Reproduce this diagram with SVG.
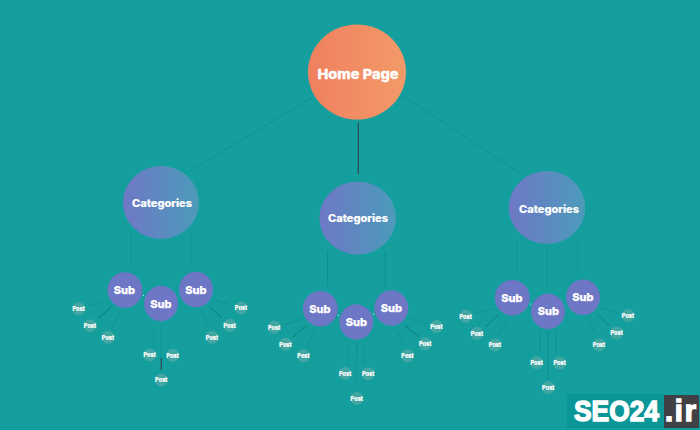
<svg xmlns="http://www.w3.org/2000/svg" width="700" height="430" viewBox="0 0 700 430">
<style>
text{font-family:"Inter","Liberation Sans",sans-serif;font-weight:800;fill:#fff;text-anchor:middle}
.h{font-size:13.5px;stroke:#fff;stroke-width:.3}.c{font-size:10.5px;stroke:#fff;stroke-width:.15}.s{font-size:11px;stroke:#fff;stroke-width:.25}.p{font-size:5.6px;font-weight:800;stroke:#fff;stroke-width:.15}
.sub{fill:#6e76c6}.post{fill:#42a6a2}
.cat{fill:url(#cg)}
#connectors line{fill:none}
.d{stroke:#0d6266;stroke-width:.5;stroke-dasharray:1 1.2}
.a{stroke:#2f4a50;stroke-width:1.2}
.f{stroke:#129496;stroke-width:.7}
.m{stroke:#10868a;stroke-width:.8}
.k{stroke:#0c565a;stroke-width:.7;stroke-dasharray:1.5 .7}
.w{stroke:#e6f6f5;stroke-width:1}
.wm{font-family:"Liberation Sans",sans-serif;font-weight:700;font-size:29px;text-anchor:start;stroke:#fff;stroke-width:1.4}
</style>
<defs>
<linearGradient id="hg"><stop offset="0" stop-color="#f0805f"/><stop offset="1" stop-color="#f39a68"/></linearGradient>
<linearGradient id="cg"><stop offset="0" stop-color="#6f78c6"/><stop offset="1" stop-color="#4b9bba"/></linearGradient>
</defs>
<rect width="700" height="430" fill="#149e9e"/>
<g id="connectors">
<line class="d" x1="312.3" y1="97.3" x2="191" y2="170.7"/>
<line class="a" x1="358.3" y1="122.7" x2="358.3" y2="174"/>
<line class="d" x1="403.3" y1="95.7" x2="520.7" y2="173.7"/>
<line class="f" x1="130.7" y1="231" x2="130.7" y2="266.7"/>
<line class="f" x1="191.7" y1="233.3" x2="191.7" y2="269.3"/>
<line class="m" x1="327.7" y1="251" x2="327.7" y2="286.7"/>
<line class="m" x1="385.3" y1="252.3" x2="385.3" y2="287.7"/>
<line class="f" x1="517.3" y1="239.3" x2="517.3" y2="275"/>
<line class="f" x1="547.3" y1="244" x2="547.3" y2="288"/>
<line class="f" x1="578.3" y1="240" x2="578.3" y2="275.7"/>
<line class="d" x1="88.7" y1="305.7" x2="105.3" y2="301"/>
<line class="k" x1="99" y1="318" x2="111.7" y2="306.3"/>
<line class="d" x1="112.3" y1="326.7" x2="119.3" y2="311.7"/>
<line class="f" x1="153.7" y1="326.7" x2="153.7" y2="346"/>
<line class="f" x1="161.3" y1="323.3" x2="161.3" y2="358.3"/>
<line class="a" x1="161.3" y1="358.3" x2="161.3" y2="370"/>
<line class="d" x1="201" y1="311.3" x2="209" y2="327.3"/>
<line class="k" x1="209" y1="306.3" x2="221.7" y2="317.7"/>
<line class="d" x1="214" y1="300" x2="230" y2="304.7"/>
<line class="w" x1="143" y1="295.3" x2="144" y2="295.3"/>
<line class="d" x1="284.3" y1="324.3" x2="302.7" y2="319"/>
<line class="k" x1="293.3" y1="336.7" x2="307" y2="325"/>
<line class="d" x1="307" y1="346.7" x2="314.7" y2="330.3"/>
<line class="f" x1="348.7" y1="346" x2="348.7" y2="365"/>
<line class="m" x1="356.7" y1="342.7" x2="356.7" y2="354"/>
<line class="f" x1="356.7" y1="354" x2="356.7" y2="383"/>
<line class="f" x1="364.7" y1="345.3" x2="364.7" y2="364"/>
<line class="d" x1="397.3" y1="331.3" x2="404" y2="345.7"/>
<line class="k" x1="405.3" y1="325.7" x2="418.3" y2="336.7"/>
<line class="d" x1="409.3" y1="319" x2="426.7" y2="323.7"/>
<line class="w" x1="338" y1="315.3" x2="339" y2="315.3"/>
<line class="w" x1="373" y1="314.3" x2="374" y2="314.3"/>
<line class="d" x1="476.7" y1="312.7" x2="494" y2="308.3"/>
<line class="k" x1="486" y1="326" x2="499" y2="314.3"/>
<line class="d" x1="499.3" y1="335" x2="506.7" y2="319"/>
<line class="m" x1="540.3" y1="334" x2="540.3" y2="351.7"/>
<line class="m" x1="548.3" y1="332" x2="548.3" y2="380"/>
<line class="m" x1="556.3" y1="334" x2="556.3" y2="352.7"/>
<line class="d" x1="589.3" y1="320" x2="595.7" y2="334.7"/>
<line class="k" x1="599" y1="315.7" x2="609" y2="325.7"/>
<line class="d" x1="601.7" y1="308.3" x2="618.3" y2="312.7"/>
<line class="w" x1="530" y1="304" x2="531" y2="304"/>
</g>
<g id="home"><ellipse cx="357" cy="72" rx="49" ry="47.5" fill="url(#hg)"/><text class="h" x="358" y="79" textLength="81" lengthAdjust="spacingAndGlyphs">Home Page</text></g>
<g id="cat1"><ellipse class="cat" cx="161" cy="202.5" rx="38" ry="36.5"/><text class="c" x="162" y="207" textLength="60" lengthAdjust="spacingAndGlyphs">Categories</text></g>
<g id="cat2"><ellipse class="cat" cx="357.7" cy="218" rx="38.3" ry="36.5"/><text class="c" x="358" y="222" textLength="60" lengthAdjust="spacingAndGlyphs">Categories</text></g>
<g id="cat3"><ellipse class="cat" cx="547" cy="207.5" rx="38.2" ry="36.5"/><text class="c" x="549" y="212.5" textLength="60" lengthAdjust="spacingAndGlyphs">Categories</text></g>

<g id="sub1a"><ellipse class="sub" cx="125" cy="290" rx="17.5" ry="17.8"/><text class="s" x="124.500" y="293.800">Sub</text></g>
<g id="sub1b"><ellipse class="sub" cx="161" cy="303.500" rx="17" ry="17.700"/><text class="s" x="161" y="307.500">Sub</text></g>
<g id="sub1c"><ellipse class="sub" cx="196" cy="289.500" rx="17" ry="17.800"/><text class="s" x="196" y="293.500">Sub</text></g>
<g id="sub2a"><ellipse class="sub" cx="320.300" cy="308.700" rx="17.500" ry="17.800"/><text class="s" x="320" y="312.500">Sub</text></g>
<g id="sub2b"><ellipse class="sub" cx="356.300" cy="322" rx="17" ry="17.700"/><text class="s" x="356.500" y="326">Sub</text></g>
<g id="sub2c"><ellipse class="sub" cx="391.300" cy="308" rx="17" ry="17.800"/><text class="s" x="391.500" y="312">Sub</text></g>
<g id="sub3a"><ellipse class="sub" cx="512.300" cy="297.700" rx="17.500" ry="17.800"/><text class="s" x="512" y="301.500">Sub</text></g>
<g id="sub3b"><ellipse class="sub" cx="548" cy="311.300" rx="17" ry="17.700"/><text class="s" x="548.500" y="315.300">Sub</text></g>
<g id="sub3c"><ellipse class="sub" cx="583" cy="297.300" rx="17" ry="17.800"/><text class="s" x="583" y="301.300">Sub</text></g>

<g id="post1a"><circle class="post" cx="78.700" cy="308.700" r="6.500"/><text class="p" x="78.700" y="311">Post</text></g>
<g id="post1b"><circle class="post" cx="90" cy="325.700" r="6.500"/><text class="p" x="90" y="328">Post</text></g>
<g id="post1c"><circle class="post" cx="108" cy="337.300" r="6.500"/><text class="p" x="108" y="339.600">Post</text></g>
<g id="post1d"><circle class="post" cx="149.700" cy="355" r="6.500"/><text class="p" x="149.700" y="357.300">Post</text></g>
<g id="post1e"><circle class="post" cx="172.700" cy="355.300" r="6.500"/><text class="p" x="172.700" y="357.600">Post</text></g>
<g id="post1f"><circle class="post" cx="161.300" cy="380" r="6.500"/><text class="p" x="161.300" y="382.300">Post</text></g>
<g id="post1g"><circle class="post" cx="212" cy="337.300" r="6.500"/><text class="p" x="212" y="339.600">Post</text></g>
<g id="post1h"><circle class="post" cx="229.700" cy="325.300" r="6.500"/><text class="p" x="229.700" y="327.600">Post</text></g>
<g id="post1i"><circle class="post" cx="241" cy="308" r="6.500"/><text class="p" x="241" y="310.300">Post</text></g>

<g id="post2a"><circle class="post" cx="274.200" cy="327.200" r="6.500"/><text class="p" x="274.200" y="329.500">Post</text></g>
<g id="post2b"><circle class="post" cx="285.500" cy="344.200" r="6.500"/><text class="p" x="285.500" y="346.500">Post</text></g>
<g id="post2c"><circle class="post" cx="303.500" cy="355.800" r="6.500"/><text class="p" x="303.500" y="358.100">Post</text></g>
<g id="post2d"><circle class="post" cx="345.200" cy="373.500" r="6.500"/><text class="p" x="345.200" y="375.800">Post</text></g>
<g id="post2e"><circle class="post" cx="368.200" cy="373.800" r="6.500"/><text class="p" x="368.200" y="376.100">Post</text></g>
<g id="post2f"><circle class="post" cx="356.800" cy="398.500" r="6.500"/><text class="p" x="356.800" y="400.800">Post</text></g>
<g id="post2g"><circle class="post" cx="407.500" cy="355.800" r="6.500"/><text class="p" x="407.500" y="358.100">Post</text></g>
<g id="post2h"><circle class="post" cx="425.200" cy="343.800" r="6.500"/><text class="p" x="425.200" y="346.100">Post</text></g>
<g id="post2i"><circle class="post" cx="436.500" cy="326.500" r="6.500"/><text class="p" x="436.500" y="328.800">Post</text></g>

<g id="post3a"><circle class="post" cx="465.700" cy="316.300" r="6.500"/><text class="p" x="465.700" y="318.600">Post</text></g>
<g id="post3b"><circle class="post" cx="477" cy="333.300" r="6.500"/><text class="p" x="477" y="335.600">Post</text></g>
<g id="post3c"><circle class="post" cx="495" cy="344.900" r="6.500"/><text class="p" x="495" y="347.200">Post</text></g>
<g id="post3d"><circle class="post" cx="536.700" cy="362.600" r="6.500"/><text class="p" x="536.700" y="364.900">Post</text></g>
<g id="post3e"><circle class="post" cx="559.700" cy="362.900" r="6.500"/><text class="p" x="559.700" y="365.200">Post</text></g>
<g id="post3f"><circle class="post" cx="548.300" cy="387.600" r="6.500"/><text class="p" x="548.300" y="389.900">Post</text></g>
<g id="post3g"><circle class="post" cx="599" cy="344.900" r="6.500"/><text class="p" x="599" y="347.200">Post</text></g>
<g id="post3h"><circle class="post" cx="616.700" cy="332.900" r="6.500"/><text class="p" x="616.700" y="335.200">Post</text></g>
<g id="post3i"><circle class="post" cx="628" cy="315.600" r="6.500"/><text class="p" x="628" y="317.900">Post</text></g>

<g id="watermark">
<rect x="567" y="394" width="97" height="34" fill="#0b9797"/>
<rect x="664" y="395" width="35" height="33" fill="#3f4145"/>
<text class="wm" x="574" y="421" textLength="85" lengthAdjust="spacingAndGlyphs">SEO24</text>
<text class="wm" x="665" y="421" textLength="31" lengthAdjust="spacing">.ir</text>
</g>
</svg>
